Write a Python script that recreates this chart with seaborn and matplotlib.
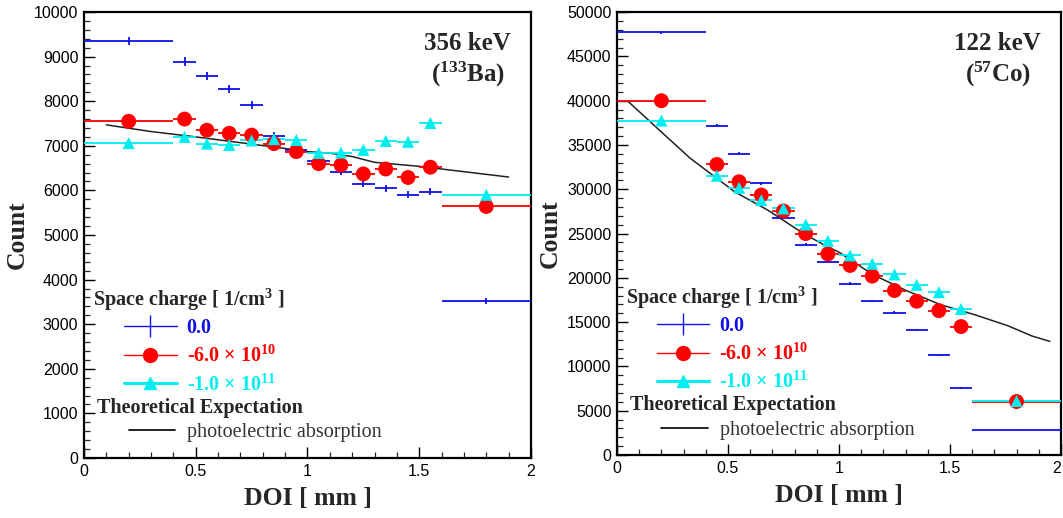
import numpy as np
import pandas as pd
import matplotlib
matplotlib.use("Agg")
import matplotlib.pyplot as plt
import seaborn as sns
from matplotlib.ticker import MultipleLocator
from matplotlib.lines import Line2D

# ---------------- data ----------------
bin_edges = [0.0, 0.4, 0.5, 0.6, 0.7, 0.8, 0.9, 1.0, 1.1, 1.2, 1.3, 1.4, 1.5, 1.6, 2.0]

ba_none = [9350, 8890, 8570, 8270, 7910, 7220, 6900, 6650, 6420, 6150, 6050, 5900, 5970, 3520]
ba_m6e10 = [7550, 7600, 7350, 7280, 7240, 7050, 6870, 6600, 6570, 6370, 6480, 6290, 6520, 5640]
ba_m1e11 = [7060, 7200, 7050, 7020, 7120, 7150, 7130, 6840, 6850, 6910, 7110, 7090, 7510, 5900]
ba_theory_x = [0.1, 0.3, 0.5, 0.7, 0.9, 1.0, 1.1, 1.2, 1.3, 1.5, 1.7, 1.9]
ba_theory_y = [7470, 7320, 7200, 7070, 6940, 6870, 6835, 6760, 6630, 6540, 6420, 6300]

co_none = [47700, 37200, 34000, 30700, 26800, 23750, 21800, 19350, 17350, 16080, 14150, 11320, 7590, 2830]
co_m6e10 = [40000, 32800, 30850, 29350, 27550, 25000, 22700, 21400, 20200, 18570, 17360, 16300, 14500, 6040]
co_m1e11 = [37760, 31530, 30170, 28780, 27830, 26020, 24170, 22530, 21590, 20380, 19210, 18380, 16490, 6100]
co_theory_x = [0.05, 0.19, 0.33, 0.53, 0.68, 0.84, 0.95, 1.0, 1.15, 1.3, 1.46, 1.61, 1.76, 1.87, 1.95]
co_theory_y = [39920, 36700, 33500, 29720, 27640, 25000, 23490, 22900, 20400, 18600, 16950, 15850, 14600, 13430, 12830]

series_labels = ["0.0", "-6.0 \u00d7 10$^{\\mathbf{10}}$", "-1.0 \u00d7 10$^{\\mathbf{11}}$"]
series_colors = ["#1010e8", "#ff0000", "#00eef0"]
panel_titles = ["356 keV\n($^{\\mathbf{133}}$Ba)", "122 keV\n($^{\\mathbf{57}}$Co)"]
x_ticks = [0, 0.5, 1, 1.5, 2]
x_tick_labels = ["0", "0.5", "1", "1.5", "2"]

# ---------------- style ----------------
sns.set_theme(style="ticks")
plt.rcParams["font.family"] = ["Liberation Sans", "DejaVu Sans"]
plt.rcParams["mathtext.fontset"] = "custom"
plt.rcParams["mathtext.rm"] = "Liberation Serif:bold"
plt.rcParams["mathtext.bf"] = "Liberation Serif:bold"
plt.rcParams["mathtext.it"] = "Liberation Serif:bold:italic"
SERIF = ["Liberation Serif", "DejaVu Serif"]

edges = np.array(bin_edges)
centers = (edges[:-1] + edges[1:]) / 2
halfw = (edges[1:] - edges[:-1]) / 2

fig = plt.figure(figsize=(10.63, 5.18), dpi=100)
ax1 = fig.add_axes([0.079, 0.1158, 0.4205, 0.861])
ax2 = fig.add_axes([0.5804, 0.1216, 0.4177, 0.855])

panels = [
    (ax1, [ba_none, ba_m6e10, ba_m1e11], ba_theory_x, ba_theory_y, 10000, 1000, 200, panel_titles[0]),
    (ax2, [co_none, co_m6e10, co_m1e11], co_theory_x, co_theory_y, 50000, 5000, 1000, panel_titles[1]),
]

for ax, series, tx, ty, ymax, ymaj, ymin_, title in panels:
    # theory line
    sns.lineplot(x=tx, y=ty, ax=ax, color="#222222", lw=1.1, zorder=2)
    markers = [None, "o", "^"]
    msizes = [0, 115, 75]
    for vals, col, mk, ms in zip(series, series_colors, markers, msizes):
        v = np.array(vals, dtype=float)
        ax.errorbar(centers, v, xerr=halfw, yerr=np.sqrt(v), fmt="none",
                    ecolor=col, elinewidth=1.3, capsize=0, zorder=3)
        if mk is not None:
            df = pd.DataFrame({"x": centers, "y": v})
            sns.scatterplot(data=df, x="x", y="y", ax=ax, marker=mk, s=ms,
                            color=col, edgecolor="none", zorder=4, legend=False)
    ax.set_xlim(0, 2)
    ax.set_ylim(0, ymax)
    ax.set_xticks(x_ticks, x_tick_labels)
    ax.xaxis.set_minor_locator(MultipleLocator(0.1))
    ax.yaxis.set_major_locator(MultipleLocator(ymaj))
    ax.yaxis.set_minor_locator(MultipleLocator(ymin_))
    ax.tick_params(which="major", direction="in", length=8, width=1.0, labelsize=11.5,
                   colors="black", top=False, right=False, pad=4)
    ax.tick_params(which="minor", direction="in", length=4, width=0.9,
                   top=False, right=False)
    for sp in ax.spines.values():
        sp.set_linewidth(1.6)
        sp.set_color("black")
    ax.set_xlabel("DOI [ mm ]", fontsize=18.5, fontweight="bold", family=SERIF, labelpad=6)
    ax.set_ylabel("Count", fontsize=18.5, fontweight="bold", family=SERIF, labelpad=4)
    ax.text(0.955, 0.955, title, transform=ax.transAxes, ha="right", va="top",
            fontsize=18, fontweight="bold", family=SERIF, multialignment="center",
            linespacing=1.2)

    # legend blocks
    ax.text(0.02, 0.385, "Space charge [ 1/cm$^{\\mathbf{3}}$ ]", transform=ax.transAxes,
            ha="left", va="top", fontsize=14.5, fontweight="bold", family=SERIF)
    handles = [
        Line2D([], [], color=series_colors[0], lw=1.0, marker="|", markersize=16, markeredgewidth=1.0),
        Line2D([], [], color=series_colors[1], lw=1.0, marker="o", markersize=10),
        Line2D([], [], color=series_colors[2], lw=2.2, marker="^", markersize=8),
    ]
    leg = ax.legend(handles, series_labels, loc="upper left", bbox_to_anchor=(0.09, 0.313),
                    frameon=False, handlelength=2.6, handletextpad=0.5, labelspacing=0.36,
                    borderpad=0, borderaxespad=0,
                    prop={"family": SERIF, "weight": "bold", "size": 14.5})
    for t, c in zip(leg.get_texts(), series_colors):
        t.set_color(c)
    ax.add_artist(leg)
    ax.text(0.03, 0.135, "Theoretical Expectation", transform=ax.transAxes,
            ha="left", va="top", fontsize=14.5, fontweight="bold", family=SERIF)
    leg2 = ax.legend([Line2D([], [], color="#111111", lw=1.3)], ["photoelectric absorption"],
                     loc="upper left", bbox_to_anchor=(0.1, 0.078), frameon=False,
                     handlelength=2.3, handletextpad=0.6, borderpad=0, borderaxespad=0,
                     prop={"family": SERIF, "size": 14.5})
    leg2.get_texts()[0].set_color("#333333")

for lbl in ax2.get_xticklabels():
    if lbl.get_text() == "2":
        lbl.set_horizontalalignment("right")

fig.savefig("out.png", dpi=100, facecolor="white")
